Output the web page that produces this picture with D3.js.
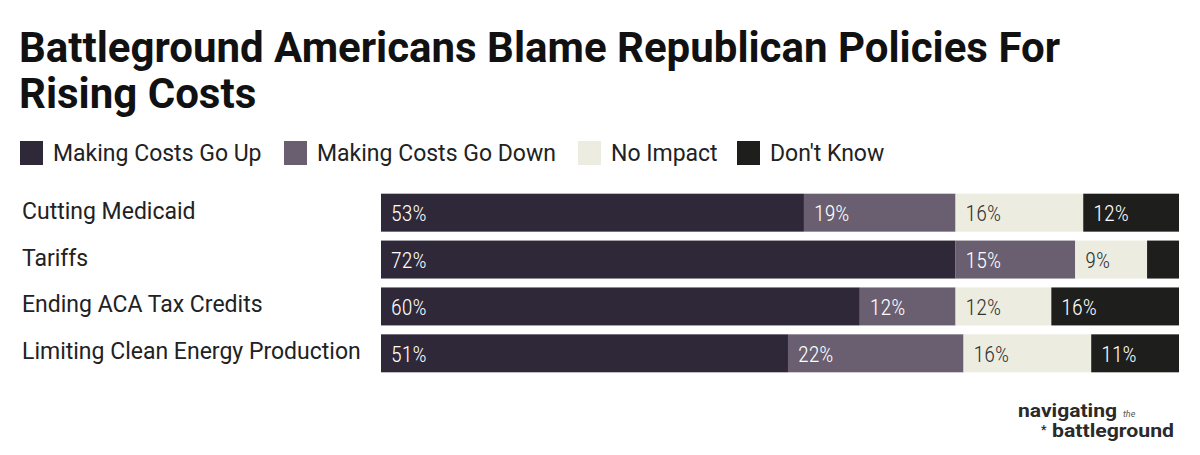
<!DOCTYPE html>
<html>
<head>
<meta charset="utf-8">
<script src="https://cdn.jsdelivr.net/npm/d3@7"></script>
<style>
  body { margin: 0; background: #fff; }
  text { font-family: Roboto, "Noto Sans", sans-serif; }
</style>
</head>
<body>
<script>
var w = 1200,
    h = 455;

var categories = ["Cutting Medicaid", "Tariffs", "Ending ACA Tax Credits", "Limiting Clean Energy Production"];
var seriesNames = ["Making Costs Go Up", "Making Costs Go Down", "No Impact", "Don't Know"];
var goUp = [53, 72, 60, 51];
var goDown = [19, 15, 12, 22];
var noImpact = [16, 9, 12, 16];
var dontKnow = [12, 4, 16, 11];

var colors = ["#2f2838", "#6a5f71", "#ecece1", "#1e1e1c"];
var textColors = ["#fff", "#fff", "#333", "#fff"];

var svg = d3.select("body").append("svg")
    .attr("width", w)
    .attr("height", h);

// title
svg.append("text")
    .attr("x", 19).attr("y", 62)
    .attr("font-size", 42).attr("font-weight", 700).attr("fill", "#111")
    .text("Battleground Americans Blame Republican Policies For");
svg.append("text")
    .attr("x", 19).attr("y", 108)
    .attr("font-size", 42).attr("font-weight", 700).attr("fill", "#111")
    .text("Rising Costs");

// legend
var legendX = [20, 284, 578, 737];
var legend = svg.selectAll("g.legend")
    .data(seriesNames)
  .enter().append("g")
    .attr("class", "legend")
    .attr("transform", function(d, i) { return "translate(" + legendX[i] + ",141)"; });
legend.append("rect")
    .attr("width", 23).attr("height", 24)
    .attr("fill", function(d, i) { return colors[i]; });
legend.append("text")
    .attr("x", 33).attr("y", 20)
    .attr("font-size", 23).attr("fill", "#222")
    .text(function(d) { return d; });

// bars
var x = d3.scaleLinear().domain([0, 100]).range([381, 1179]);
var y = d3.scaleBand().domain(categories).range([189, 377]).paddingInner(0.19).paddingOuter(0.1);

var rows = categories.map(function(c, i) {
  return { cat: c, vals: [goUp[i], goDown[i], noImpact[i], dontKnow[i]] };
});
var stack = d3.stack().keys([0, 1, 2, 3]).value(function(d, k) { return d.vals[k]; })(rows);

svg.selectAll("text.cat")
    .data(categories)
  .enter().append("text")
    .attr("class", "cat")
    .attr("x", 22)
    .attr("y", function(d) { return y(d) + y.bandwidth() / 2 - 2; })
    .attr("dy", "0.35em")
    .attr("font-size", 23).attr("fill", "#222")
    .text(function(d) { return d; });

var layer = svg.selectAll("g.layer")
    .data(stack)
  .enter().append("g")
    .attr("class", "layer");

layer.selectAll("rect")
    .data(function(d) { return d; })
  .enter().append("rect")
    .attr("x", function(d) { return x(d[0]); })
    .attr("y", function(d) { return y(d.data.cat); })
    .attr("width", function(d) { return x(d[1]) - x(d[0]); })
    .attr("height", y.bandwidth())
    .attr("fill", function() { return colors[d3.select(this.parentNode).datum().key]; });

// labels only where the segment is wide enough
layer.each(function(s) {
  d3.select(this).selectAll("text")
      .data(s.filter(function(d) { return d[1] - d[0] >= 5; }))
    .enter().append("text")
      .attr("x", function(d) { return x(d[0]) + 10; })
      .attr("y", function(d) { return y(d.data.cat) + y.bandwidth() / 2 + 1; })
      .attr("dy", "0.35em")
      .attr("font-size", 22)
      .attr("font-weight", 300)
      .attr("font-stretch", "condensed")
      .attr("fill", textColors[s.key])
      .text(function(d) { return (d[1] - d[0]) + "%"; });
});

// logo
var logo = svg.append("g").attr("fill", "#2a2a2a");
logo.append("text").attr("x", 1018).attr("y", 417)
    .attr("font-size", 19).attr("font-weight", 700)
    .attr("textLength", 99).attr("lengthAdjust", "spacingAndGlyphs")
    .text("navigating");
logo.append("text").attr("x", 1123).attr("y", 417)
    .attr("font-size", 9).attr("font-style", "italic").attr("fill", "#555")
    .text("the");
logo.append("text").attr("x", 1052).attr("y", 437)
    .attr("font-size", 19).attr("font-weight", 700)
    .attr("textLength", 122).attr("lengthAdjust", "spacingAndGlyphs")
    .text("battleground");
logo.append("text").attr("x", 1041).attr("y", 434)
    .attr("font-size", 12).attr("font-weight", 700)
    .text("*");
</script>
</body>
</html>
